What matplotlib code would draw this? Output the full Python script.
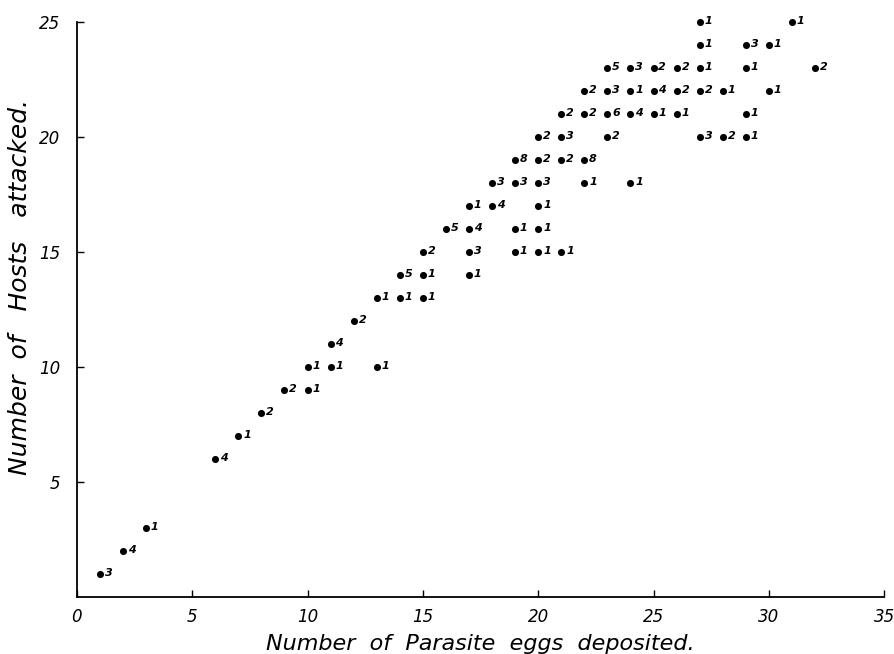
import matplotlib
matplotlib.use("Agg")
import matplotlib.pyplot as plt

# Data: (eggs deposited, hosts attacked, number of cases)
eggs = [1, 2, 3, 6, 7, 8, 9, 10, 10, 11, 11, 12, 13, 13, 14, 14, 15, 15, 15, 16,
        17, 17, 17, 17, 18, 18, 19, 19, 19, 19, 20, 20, 20, 20, 20, 20, 21, 21, 21, 21,
        22, 22, 22, 22, 23, 23, 23, 23, 24, 24, 24, 24, 25, 25, 25, 26, 26, 26,
        27, 27, 27, 27, 27, 28, 28, 29, 29, 29, 29, 30, 30, 31, 32]
hosts = [1, 2, 3, 6, 7, 8, 9, 9, 10, 10, 11, 12, 10, 13, 13, 14, 13, 14, 15, 16,
         14, 15, 16, 17, 17, 18, 15, 16, 18, 19, 15, 16, 17, 18, 19, 20, 15, 19, 20, 21,
         18, 19, 21, 22, 20, 21, 22, 23, 18, 21, 22, 23, 21, 22, 23, 21, 22, 23,
         20, 22, 23, 24, 25, 20, 22, 20, 21, 23, 24, 22, 24, 25, 23]
counts = [3, 4, 1, 4, 1, 2, 2, 1, 1, 1, 4, 2, 1, 1, 1, 5, 1, 1, 2, 5,
          1, 3, 4, 1, 4, 3, 1, 1, 3, 8, 1, 1, 1, 3, 2, 2, 1, 2, 3, 2,
          1, 8, 2, 2, 2, 6, 3, 5, 1, 4, 1, 3, 1, 4, 2, 1, 2, 2,
          3, 2, 1, 1, 1, 2, 1, 1, 1, 1, 3, 1, 1, 1, 2]
x_ticks = [0, 5, 10, 15, 20, 25, 30, 35]
y_ticks = [5, 10, 15, 20, 25]

fig = plt.figure(figsize=(8.94, 6.54), dpi=100)
ax = fig.add_axes([0.086, 0.087, 0.903, 0.879])

ax.scatter(eggs, hosts, s=26, color="black", zorder=3, linewidths=0, clip_on=False)
for x, y, c in zip(eggs, hosts, counts):
    ax.annotate(str(c), (x, y), xytext=(3.5, 0.8), textcoords="offset points",
                fontsize=8, fontstyle="italic", fontweight="bold",
                va="center", ha="left", color="black", annotation_clip=False)

ax.set_xlim(0, 35)
ax.set_ylim(0, 25)
ax.set_xticks(x_ticks)
ax.set_yticks(y_ticks)
ax.set_xticklabels([str(t) for t in x_ticks], fontsize=12, fontstyle="italic",
                   fontweight="light")
ax.set_yticklabels([str(t) for t in y_ticks], fontsize=12, fontstyle="italic",
                   fontweight="light")
ax.tick_params(direction="in", length=5, width=1, colors="black")
ax.tick_params(axis="x", pad=8)
ax.tick_params(axis="y", pad=12)

for side in ("top", "right"):
    ax.spines[side].set_visible(False)
for side in ("left", "bottom"):
    ax.spines[side].set_linewidth(1.3)

ax.set_xlabel("Number  of  Parasite  eggs  deposited.", fontsize=16,
              fontstyle="italic", fontweight="light", va="center")
ax.xaxis.set_label_coords(0.50, -0.082)
ax.set_ylabel("Number  of   Hosts   attacked.", fontsize=18,
              fontstyle="italic", fontweight="light", va="center")
ax.yaxis.set_label_coords(-0.070, 0.54)

fig.savefig("out.png", dpi=100)
